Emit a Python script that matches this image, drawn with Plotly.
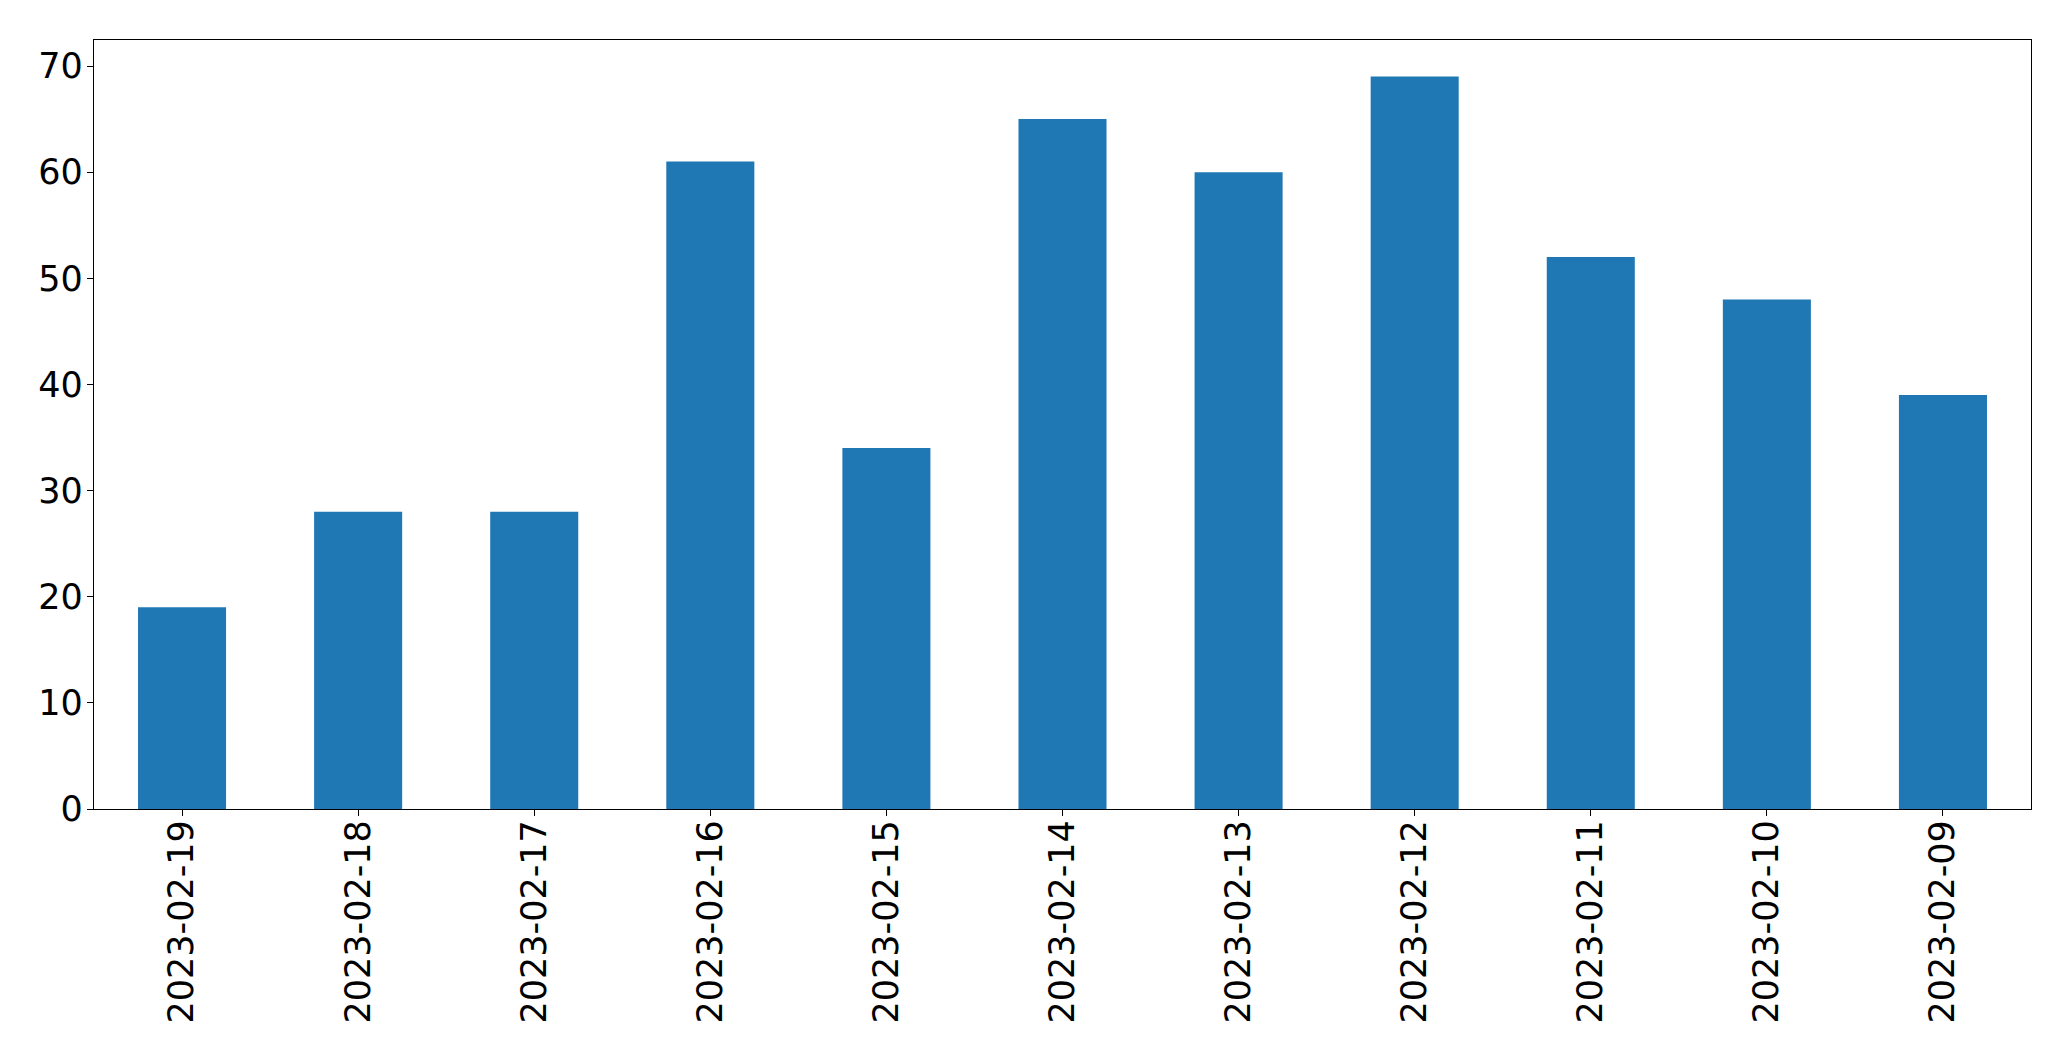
import plotly.graph_objects as go

dates = ["2023-02-19", "2023-02-18", "2023-02-17", "2023-02-16", "2023-02-15",
         "2023-02-14", "2023-02-13", "2023-02-12", "2023-02-11", "2023-02-10", "2023-02-09"]
counts = [19, 28, 28, 61, 34, 65, 60, 69, 52, 48, 39]
y_ticks = [0, 10, 20, 30, 40, 50, 60, 70]

fig = go.Figure(go.Bar(x=dates, y=counts, marker=dict(color="#1f77b4", line=dict(width=0)), width=0.5))

fig.update_layout(
    width=2071, height=1061,
    margin=dict(l=86, r=48, t=32, b=260, autoexpand=False),
    paper_bgcolor="white", plot_bgcolor="white",
    font=dict(family="DejaVu Sans", size=35, color="black"),
    showlegend=False,
    bargap=0.5,
)
fig.update_xaxes(
    type="category", range=[-0.5, 10.5], tickangle=-90,
    showline=True, linecolor="black", linewidth=1.3, mirror=True,
    ticks="outside", ticklen=6, tickwidth=1.3, tickcolor="black",
    showgrid=False, zeroline=False, ticklabelstandoff=-10, automargin=False,
)
fig.update_yaxes(
    range=[0, max(counts) * 1.05], tickvals=y_ticks,
    showline=True, linecolor="black", linewidth=1.3, mirror=True,
    ticks="outside", ticklen=6, tickwidth=1.3, tickcolor="black",
    showgrid=False, zeroline=False, ticklabelstandoff=-3, automargin=False,
)

fig.write_html("out.html")
